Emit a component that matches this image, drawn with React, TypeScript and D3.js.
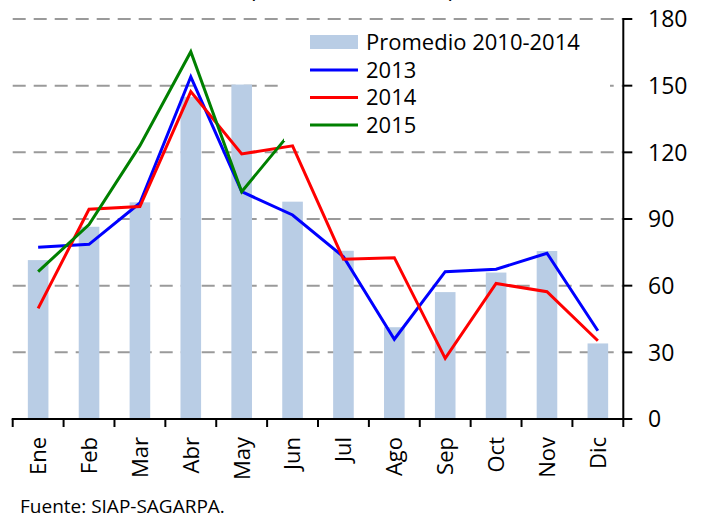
import React from "react";
import * as d3 from "d3";

const months = ["Ene", "Feb", "Mar", "Abr", "May", "Jun", "Jul", "Ago", "Sep", "Oct", "Nov", "Dic"];
const promedio = [71.5, 86.5, 97.5, 145, 150.5, 97.8, 75.7, 41.3, 57.1, 65.9, 75.6, 34];
const s2013 = [77.3, 78.6, 97.2, 154, 102.3, 91.8, 73, 35.9, 66.3, 67.4, 74.6, 39.7];
const s2014 = [49.8, 94.4, 95.6, 147.3, 119.3, 122.9, 71.9, 72.6, 27.3, 61, 57.3, 35.2];
const s2015 = [66.3, 87.5, 123, 165.3, 102.3, 130];
const yTicks = [0, 30, 60, 90, 120, 150, 180];
const legendLabels = ["Promedio 2010-2014", "2013", "2014", "2015"];
const titleText = "(miles de toneladas)";
const sourceText = "Fuente: SIAP-SAGARPA.";

const W = 704;
const H = 519;
const FONT = "'Open Sans', 'Noto Sans', sans-serif";

export default function App() {
  const left = 12.7;
  const right = 623.3;
  const top = 19;
  const bottom = 419;

  const x = d3
    .scaleBand<string>()
    .domain(months)
    .range([left, right])
    .paddingInner(0.595)
    .paddingOuter(0.2975);
  const step = x.step();
  const cx = (i: number) => (x(months[i]) as number) + x.bandwidth() / 2;
  const y = d3.scaleLinear().domain([0, 180]).range([bottom, top]);

  const line = d3
    .line<number>()
    .x((_, i) => cx(i))
    .y((d) => y(d));

  const series = [
    { data: s2013, color: "#0000FF", label: legendLabels[1] },
    { data: s2014, color: "#FF0000", label: legendLabels[2] },
    { data: s2015, color: "#008000", label: legendLabels[3] },
  ];

  const boundaries = d3.range(months.length + 1).map((i) => left + i * step);

  const legendX = 284;
  const legendY = 26;
  const legendW = 326;
  const legendH = 115;
  const rowY = [42, 70, 97.5, 125];

  return (
    <svg
      width={W}
      height={H}
      style={{ position: "absolute", left: 0, top: 0, background: "#fff" }}
      fontFamily={FONT}
    >
      <rect x={0} y={0} width={W} height={H} fill="#fff" />
      <text x={352} y={-2.5} fontSize={22} textAnchor="middle" fill="#000">
        {titleText}
      </text>
      {/* gridlines */}
      {yTicks
        .filter((t) => t > 0)
        .map((t) => (
          <line
            key={"g" + t}
            x1={left}
            x2={right}
            y1={y(t)}
            y2={y(t)}
            stroke="#9a9a9a"
            strokeWidth={2}
            strokeDasharray="13,8"
          />
        ))}
      {/* bars */}
      {promedio.map((v, i) => (
        <rect
          key={"b" + i}
          x={x(months[i]) as number}
          y={y(v)}
          width={x.bandwidth()}
          height={y(0) - y(v)}
          fill="#B9CDE5"
        />
      ))}
      {/* lines */}
      {series.map((s) => (
        <path
          key={s.label}
          d={line(s.data) as string}
          fill="none"
          stroke={s.color}
          strokeWidth={3}
        />
      ))}
      {/* legend */}
      <rect x={legendX} y={legendY} width={legendW} height={legendH} fill="#fff" />
      <rect x={310} y={rowY[0] - 7} width={48} height={14} fill="#B9CDE5" />
      {series.map((s, i) => (
        <line
          key={"l" + i}
          x1={310}
          x2={358}
          y1={rowY[i + 1]}
          y2={rowY[i + 1]}
          stroke={s.color}
          strokeWidth={3}
        />
      ))}
      {legendLabels.map((l, i) => (
        <text
          key={"lt" + i}
          x={366}
          y={rowY[i]}
          dy="0.36em"
          fontSize={22}
          fill="#000"
        >
          {l}
        </text>
      ))}
      {/* x axis */}
      <line x1={left - 1} x2={right + 1} y1={bottom} y2={bottom} stroke="#000" strokeWidth={2} />
      {boundaries.map((bx, i) => (
        <line key={"xt" + i} x1={bx} x2={bx} y1={bottom} y2={bottom + 8} stroke="#000" strokeWidth={2} />
      ))}
      {months.map((m, i) => (
        <text
          key={"xl" + m}
          transform={`translate(${cx(i)},${437}) rotate(-90)`}
          textAnchor="end"
          dy="0.36em"
          fontSize={22}
          fill="#000"
        >
          {m}
        </text>
      ))}
      {/* y axis */}
      <line x1={right} x2={right} y1={top - 1} y2={bottom + 1} stroke="#000" strokeWidth={2} />
      {yTicks.map((t) => (
        <g key={"yt" + t}>
          <line x1={right} x2={right + 9} y1={y(t)} y2={y(t)} stroke="#000" strokeWidth={2} />
          <text x={648} y={y(t)} dy="0.36em" fontSize={23} fill="#000">
            {t}
          </text>
        </g>
      ))}
      <text x={20} y={513} fontSize={19} fill="#000">
        {sourceText}
      </text>
    </svg>
  );
}
